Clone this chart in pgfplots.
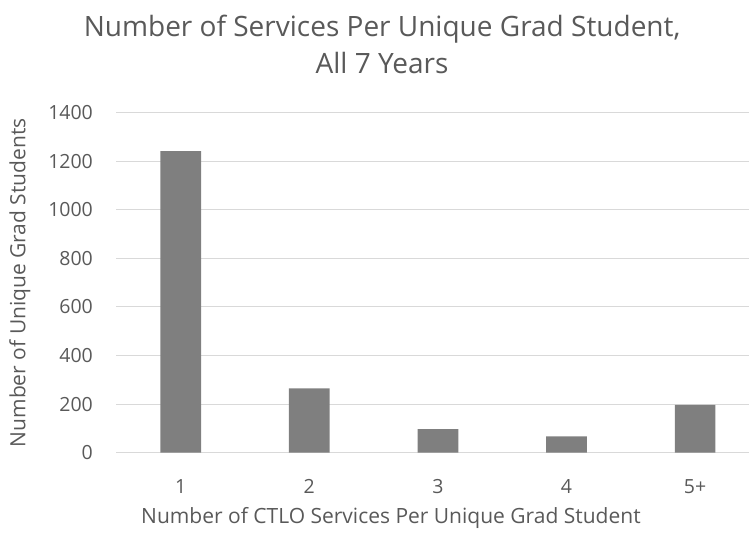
\documentclass[border=0pt]{standalone}
\usepackage{pgfplots}
\pgfplotsset{compat=1.18}
\usepackage{fontspec}
\setmainfont{Open Sans}
\definecolor{txt}{HTML}{595959}
\definecolor{grd}{HTML}{D9D9D9}
\definecolor{bar}{HTML}{7F7F7F}
\begin{document}
\begin{tikzpicture}[x=1pt,y=1pt]
\useasboundingbox (-116.4,-82.3) rectangle (632.6,452.7);
\begin{axis}[
  at={(0,0)}, anchor=south west,
  scale only axis, width=632.6pt, height=340pt,
  xmin=-0.5, xmax=4.419, ymin=0, ymax=1400,
  ytick={0,200,...,1400},
  xtick={0,1,2,3,4}, xticklabels={1,2,3,4,5+},
  ymajorgrids, grid style={grd, line width=1pt},
  axis x line*=bottom, axis y line*=left,
  x axis line style={grd, line width=1pt, -},
  y axis line style={draw=none},
  major tick length=0pt,
  tick label style={font=\fontsize{19.5}{23}\selectfont, text=txt},
  /pgf/number format/assume math mode=true,
  /pgf/number format/1000 sep={},
  yticklabel style={anchor=east, xshift=-20pt},
  xticklabel style={yshift=-23pt},
  xlabel={Number of CTLO Services Per Unique Grad Student},
  ylabel={Number of Unique Grad Students},
  label style={font=\fontsize{21}{25}\selectfont, text=txt},
  xlabel style={at={(axis description cs:0.434,0)}, anchor=center, yshift=-65pt},
  ylabel style={at={(axis description cs:-0.1524,0.5)}, anchor=center},
  title={Number of Services Per Unique Grad Student,\\All 7 Years},
  title style={font=\fontsize{28}{37}\selectfont, text=txt, align=center, at={(axis description cs:0.42,1)}, anchor=center, yshift=62pt},
]
\addplot[ybar, bar width=40.7pt, fill=bar, draw=none] coordinates {(0,1242) (1,265) (2,97) (3,67) (4,197)};
\end{axis}
\end{tikzpicture}
\end{document}
